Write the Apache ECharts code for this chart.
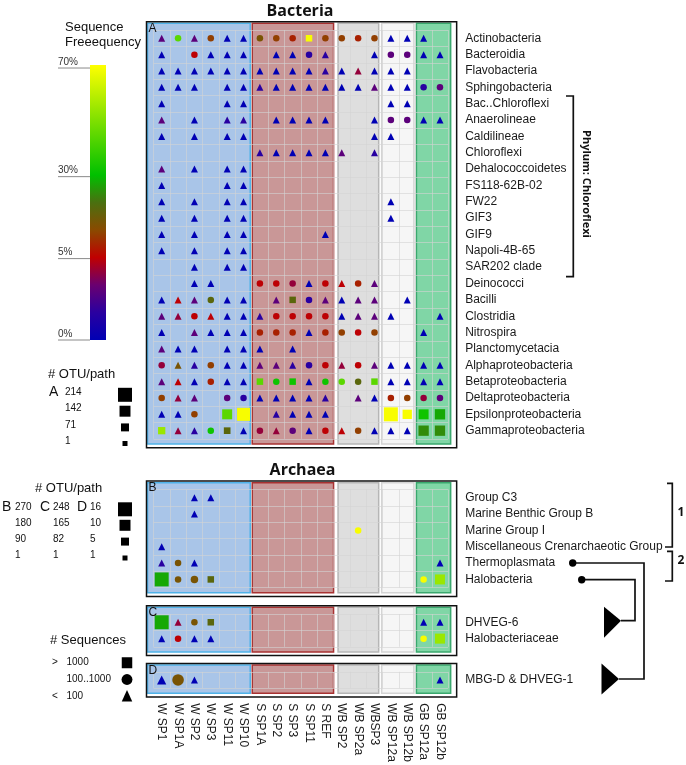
<!DOCTYPE html>
<html><head><meta charset="utf-8">
<script src="https://cdn.jsdelivr.net/npm/echarts@6/dist/echarts.min.js"></script>
<style>html,body{margin:0;padding:0;background:#fff}#c{width:686px;height:765px}</style>
</head><body><div id="c"></div>
<script>
// ---------------- DATA ----------------
const samples = ['W SP1','W SP1A','W SP2','W SP3','W SP11','W SP10','S SP1A','S SP2','S SP3','S SP11','S REF','WB SP2','WB SP2a','WBSP3','WB SP12a','WB SP12b','GB SP12a','GB SP12b'];
const sampleGroups = [[0,5],[6,10],[11,13],[14,15],[16,17]];

const bacteriaClasses = ['Actinobacteria','Bacteroidia','Flavobacteria','Sphingobacteria','Bac..Chloroflexi','Anaerolineae','Caldilineae','Chloroflexi','Dehalococcoidetes','FS118-62B-02','FW22','GIF3','GIF9','Napoli-4B-65','SAR202 clade','Deinococci','Bacilli','Clostridia','Nitrospira','Planctomycetacia','Alphaproteobacteria','Betaproteobacteria','Deltaproteobacteria','Epsilonproteobacteria','Gammaproteobacteria'];
const archaeaBClasses = ['Group C3','Marine Benthic Group B','Marine Group I','Miscellaneous Crenarchaeotic Group','Thermoplasmata','Halobacteria'];
const archaeaCClasses = ['DHVEG-6','Halobacteriaceae'];
const archaeaDClasses = ['MBG-D & DHVEG-1'];

// token = #sequences class (t <100, c 100..1000, s >1000) + frequency level letter + optional OTU/path count; '-' = absent
const bacteriaMarks = [
 'tP cL tP cN tB tB  cK cN cX sY cN  cN cX cN  tB tB  tB -',
 'tB - cR tB tB tB  - tB tB cI tI  - - tB  cP cP  tB tB',
 'tB tB tB tB tB tB  tB tB tB tB tI  tB tM tB  tB tB  - -',
 'tB tB tB - tB tB  tI tB tB tB tB  tB tB tP  tB tB  cI cP',
 'tB - - - tB tB  - - - - -  - - -  tB tB  - -',
 'tP - tB - tI tI  - tB tB tB tB  - - tB  cP cP  tB tB',
 'tB - tB - tB tB  - - - - -  - - tB  tB -  - -',
 '- - - - - -  tI tB tB tB tB  tP - tI  - -  - -',
 'tP - tB - tB tB  - - - - -  - - -  - -  - -',
 'tB - - - tB tB  - - - - -  - - -  - -  - -',
 'tB - tB - tB tB  - - - - -  - - -  tB -  - -',
 'tB - tB - tB tB  - - - - -  - - -  tB -  - -',
 'tB - tB - tB tB  - - - - tB  - - -  - -  - -',
 'tB - tB - tB tB  - - - - -  - - -  - -  - -',
 '- - tB - tB tB  - - - - -  - - -  - -  - -',
 '- - tB tB - -  cR cR cM tB cR  tR cX tP  - -  - -',
 'tB tR tP cO tB tB  - tP sO cI tP  tB tP tP  - tB  - -',
 'tP tM cR tR tB tB  tI cR cR cR cR  tB tP tP  tB -  - tB',
 'tB - tP tB tB tB  cX cX cX tB cX  cN cR cN  - -  tB -',
 'tP tB tB - tB tB  tB - tB - -  - - -  - -  - -',
 'cM tK tI cN tB tB  tP tP tI cI cR  tM cR tP  tB tB  tB tB',
 'tP tR tB cX tB tB  sL cG sG tB cG  cL cO sL  tB tB  tB tB',
 'cN tM tP - cP cI  tB tB tB tB tI  - tP tB  cX cN  cM cP',
 'tB tB cN - sL119 sY190  - tI tB tB tB  - - -  sY214 sY103  sG119 sH127',
 'sQ55 tM tI cG sO40 tB  cM tM cP tB cR  tR cN tB  tB tB  sD127 sD127'
];
const archaeaBMarks = [
 '- - tB tB - -  - - - - -  - - -  - -  - -',
 '- - tB - - -  - - - - -  - - -  - -  - -',
 '- - - - - -  - - - - -  - cY -  - -  - -',
 'tB - - - - -  - - - - -  - - -  - -  - -',
 'tI cK tB - - -  - - - - -  - - -  - -  - tB',
 'sH270 cK cK76 sO - -  - - - - -  - - -  - -  cY sQ150'
];
const archaeaCMarks = [
 'sH248 tM cK sO - -  - - - - -  - - -  - -  tB tB',
 'tB cR tB tB - -  - - - - -  - - -  - -  cY sQ139'
];
const archaeaDMarks = [
 'tB8 cK12 tB - - -  - - - - -  - - -  - -  - tB'
];

// sequence frequency (%) of each colour level
const freqLevels = {B:0, I:1.6, P:3, M:4.2, R:5, X:9, N:12.5, K:16, O:20, D:25, H:28, G:33, L:45, Q:55, Y:70};
const freqTicks = [0, 5, 30, 70];
const otuMaxA = 214, otuMaxB = 270, otuMaxC = 248, otuMaxD = 16;
const otuLegendA = [214, 142, 71, 1];
const otuLegendB = [270, 180, 90, 1];
const otuLegendC = [248, 165, 82, 1];
const otuLegendD = [16, 10, 5, 1];
const seqBinSigns = ['>', '', '<'];
const seqBinLabels = ['1000', '100..1000', '100'];
const seqBinShapes = ['s', 'c', 't'];

// ---------------- SCALES / STYLE ----------------
const colorStops = ['#0000b4','#2a00a0','#6a0070','#c00000','#8a4a00','#4a7010','#00c000','#40d000','#80e000','#c0f000','#ffff00'];
const fAnch = [0, 5, 30, 70], tAnch = [0, 0.296, 0.594, 0.989];
function freqToT(f){
  for (let i = 1; i < fAnch.length; i++) {
    if (f <= fAnch[i]) return tAnch[i-1] + (f - fAnch[i-1]) / (fAnch[i] - fAnch[i-1]) * (tAnch[i] - tAnch[i-1]);
  }
  return 1;
}
const otuSize = (n, max) => 5 + 9 * (n - 1) / (max - 1);
const baseSize = {t: 7, c: 6.5, s: 6.5};
const shapeSymbol = {t: 'triangle', c: 'circle', s: 'rect'};

function parseMarks(rows){
  const out = [];
  rows.forEach((r, ri) => r.trim().split(/\s+/).forEach((tok, ci) => {
    if (tok === '-') return;
    out.push([ci, ri, freqToT(freqLevels[tok[1]]), tok[0], parseInt(tok.slice(2)) || 1]);
  }));
  return out;
}

const CELL_W = 16.37, CELL_H = 16.35, GRID_LEFT = 153.5;
const GRID_W = CELL_W * samples.length;
const panels = [
  {names: bacteriaClasses, marks: bacteriaMarks, max: otuMaxA, top: 30.1, shift: 4, letter: 'A'},
  {names: archaeaBClasses, marks: archaeaBMarks, max: otuMaxB, top: 489.5, shift: 3.5, letter: 'B'},
  {names: archaeaCClasses, marks: archaeaCMarks, max: otuMaxC, top: 614.1, shift: 0.5, letter: 'C'},
  {names: archaeaDClasses, marks: archaeaDMarks, max: otuMaxD, top: 671.8, shift: 0, letter: 'D'}
];
const bandStyles = [
  {fill:'#a9c5e8', stroke:'#4fb2e8', padL:-6, padR:1.5},
  {fill:'#c99797', stroke:'#a83232', padL:0.5, padR:0},
  {fill:'#dedede', stroke:'#b6b6b6', padL:4.5, padR:4},
  {fill:'#f6f6f6', stroke:'#d4d4d4', padL:-1, padR:1.5},
  {fill:'#80d6a6', stroke:'#3aa86e', padL:1, padR:-2.5}
];
const GRID_LINE = 'rgba(212,212,212,0.6)';
const LABEL_FONT = '"Liberation Sans", Arial, sans-serif';
const BOLD_FONT = '"Open Sans", "Liberation Sans", sans-serif';

// ---------------- OPTION ----------------
const grids = [], xAxes = [], yAxes = [], series = [], scatterIdx = [];
panels.forEach((p, i) => {
  const h = CELL_H * p.names.length;
  grids.push({left: GRID_LEFT, top: p.top, width: GRID_W, height: h, containLabel: false, outerBoundsMode: 'none'});
  const last = i === panels.length - 1;
  xAxes.push({type:'category', gridIndex:i, data: samples, position:'bottom',
    axisLine:{show:false}, axisTick:{show:false, interval:0},
    axisLabel:{show:last, interval:0, rotate:-90, margin:15, fontSize:12, color:'#1a1a1a', fontFamily: LABEL_FONT},
    splitLine:{show:true, interval:0, lineStyle:{color: GRID_LINE, width:1}}});
  yAxes.push({type:'category', gridIndex:i, data: p.names, inverse:true, position:'right',
    axisLine:{show:false}, axisTick:{show:false, interval:0},
    axisLabel:{interval:0, margin:17, fontSize:12, color:'#1a1a1a', fontFamily: LABEL_FONT, align:'left', padding:[0,0,p.shift*2,0]},
    splitLine:{show:true, interval:0, lineStyle:{color: GRID_LINE, width:1}}});
  series.push({type:'custom', xAxisIndex:i, yAxisIndex:i, z:-1, silent:true, clip:false,
    encode:{x:[0,1], y:2},
    data: sampleGroups.map(g => [g[0], g[1], 0]),
    renderItem: (params, api) => {
      const st = bandStyles[params.dataIndex];
      const w = api.size([1, 0])[0];
      const cs = params.coordSys;
      const x0 = api.coord([api.value(0), 0])[0] - w/2 + st.padL;
      const x1 = api.coord([api.value(1), 0])[0] + w/2 - st.padR;
      const y0 = cs.y - 6.8, y1 = cs.y + cs.height + 5.2;
      return {type:'rect', shape:{x:x0, y:y0, width:x1-x0, height:y1-y0},
        style:{fill: st.fill, stroke: st.stroke, lineWidth:1.5}};
    }});
  scatterIdx.push(series.length);
  series.push({type:'scatter', xAxisIndex:i, yAxisIndex:i, z:5,
    data: parseMarks(p.marks),
    encode:{x:0, y:1},
    symbol: v => shapeSymbol[v[3]],
    symbolSize: v => Math.max(baseSize[v[3]], otuSize(v[4], p.max)),
    itemStyle:{opacity:1}});
});

// ---------------- GRAPHICS (frames, legends, annotations) ----------------
const g = [];
const txt = (x, y, text, font, align, extra) => Object.assign({type:'text', x, y, z:100,
  style:{text, font, fill:'#111', align: align || 'left', verticalAlign:'middle'}}, extra || {});
panels.forEach(p => {
  const h = CELL_H * p.names.length;
  g.push({type:'rect', z:90, shape:{x: GRID_LEFT - 7, y: p.top - 8.4, width: GRID_W + 15.5, height: h + 17.2},
    style:{fill:'none', stroke:'#111', lineWidth:1.5}});
  g.push(txt(GRID_LEFT - 5, p.top - 7.6, p.letter, '12px ' + LABEL_FONT));
  g[g.length-1].style.verticalAlign = 'top';
});
g.push(txt(300, 11, 'Bacteria', 'bold 16px ' + BOLD_FONT, 'center'));
g.push(txt(302.5, 470.5, 'Archaea', 'bold 16px ' + BOLD_FONT, 'center'));

// colour bar
const BAR_X = 90, BAR_TOP = 65, BAR_H = 275, BAR_W = 16;
g.push({type:'rect', z:50, shape:{x:BAR_X, y:BAR_TOP, width:BAR_W, height:BAR_H},
  style:{fill: new echarts.graphic.LinearGradient(0, 1, 0, 0,
    colorStops.map((c, i) => ({offset: i / (colorStops.length - 1), color: c})))}});
freqTicks.forEach(f => {
  const y = BAR_TOP + BAR_H - freqToT(f) * BAR_H;
  g.push({type:'line', z:50, shape:{x1:58, y1:y, x2:BAR_X, y2:y}, style:{stroke:'#8a8a8a', lineWidth:1}});
  g.push(txt(58, y - 1, f + '%', '10px ' + LABEL_FONT, 'left'));
  g[g.length-1].style.verticalAlign = 'bottom';
  g[g.length-1].style.fill = '#333';
});
g.push(txt(65, 27.3, 'Sequence', '13px ' + LABEL_FONT));
g.push(txt(65, 42.3, 'Freeequency', '13px ' + LABEL_FONT));

// OTU/path legend A
g.push(txt(48, 374, '# OTU/path', '13px ' + LABEL_FONT));
g.push(txt(49, 392.3, 'A', '14px ' + LABEL_FONT));
const rowYA = [392.3, 408.7, 424.9, 441];
otuLegendA.forEach((n, i) => {
  g.push(txt(65, rowYA[i], String(n), '10px ' + LABEL_FONT));
  const s = otuSize(n, otuMaxA);
  g.push({type:'rect', z:50, shape:{x:125 - s/2, y:rowYA[i] + 2.5 - s/2, width:s, height:s}, style:{fill:'#000'}});
});
// OTU/path legend archaea
g.push(txt(35, 488.3, '# OTU/path', '13px ' + LABEL_FONT));
const rowYB = [507, 523, 539.3, 555.7];
[['B', 2, 15, otuLegendB], ['C', 40, 53, otuLegendC], ['D', 77, 90, otuLegendD]].forEach(([L, lx, nx, vals]) => {
  g.push(txt(lx, 506.7, L, '14px ' + LABEL_FONT));
  vals.forEach((n, i) => g.push(txt(nx, rowYB[i], String(n), '10px ' + LABEL_FONT)));
});
otuLegendB.forEach((n, i) => {
  const s = otuSize(n, otuMaxB);
  g.push({type:'rect', z:50, shape:{x:125 - s/2, y:rowYB[i] + 2.3 - s/2, width:s, height:s}, style:{fill:'#000'}});
});
// # Sequences legend
g.push(txt(50, 640.7, '# Sequences', '13px ' + LABEL_FONT));
const rowYS = [662.5, 679.5, 696];
seqBinLabels.forEach((lab, i) => {
  if (seqBinSigns[i]) g.push(txt(52, rowYS[i], seqBinSigns[i], '10px ' + LABEL_FONT));
  g.push(txt(66.5, rowYS[i], lab, '10px ' + LABEL_FONT));
  const cx = 127, cy = rowYS[i], s = 10.5;
  if (seqBinShapes[i] === 's') g.push({type:'rect', z:50, shape:{x:cx - s/2, y:cy - s/2, width:s, height:s + 0.5}, style:{fill:'#000'}});
  else if (seqBinShapes[i] === 'c') g.push({type:'circle', z:50, shape:{cx, cy, r:s/2 + 0.2}, style:{fill:'#000'}});
  else g.push({type:'polygon', z:50, shape:{points:[[cx, cy - 6], [cx + s/2, cy + 5.5], [cx - s/2, cy + 5.5]]}, style:{fill:'#000'}});
});

// Chloroflexi bracket
const LW = 1.7;
g.push({type:'polyline', z:50, shape:{points:[[566,96],[573.3,96],[573.3,276.7],[566,276.7]]}, style:{stroke:'#111', lineWidth:LW, fill:null}});
g.push(txt(586.5, 184, 'Phylum: Chloroflexi', 'bold 11px ' + BOLD_FONT, 'center', {rotation: -Math.PI/2}));
// archaea brackets
g.push({type:'polyline', z:50, shape:{points:[[667,483.3],[672.3,483.3],[672.3,547],[665,547]]}, style:{stroke:'#111', lineWidth:LW, fill:null}});
g.push({type:'polyline', z:50, shape:{points:[[667,551.3],[672.3,551.3],[672.3,581],[665,581]]}, style:{stroke:'#111', lineWidth:LW, fill:null}});
g.push(txt(677.5, 512.3, '1', 'bold 12px ' + BOLD_FONT));
g.push(txt(677.5, 560.3, '2', 'bold 12px ' + BOLD_FONT));
// tree linking archaea panels
g.push({type:'polyline', z:50, shape:{points:[[572.7,563],[644,563],[644,679],[619,679]]}, style:{stroke:'#111', lineWidth:LW, fill:null}});
g.push({type:'polyline', z:50, shape:{points:[[581.7,579.7],[635,579.7],[635,620.7],[621,620.7]]}, style:{stroke:'#111', lineWidth:LW, fill:null}});
g.push({type:'circle', z:50, shape:{cx:572.7, cy:563, r:3.7}, style:{fill:'#000'}});
g.push({type:'circle', z:50, shape:{cx:581.7, cy:579.7, r:3.7}, style:{fill:'#000'}});
g.push({type:'polygon', z:50, shape:{points:[[604,606.7],[621,620.7],[604,637.7]]}, style:{fill:'#000'}});
g.push({type:'polygon', z:50, shape:{points:[[601.5,663.5],[619,679],[601.5,694.5]]}, style:{fill:'#000'}});

const chart = echarts.init(document.getElementById('c'), null, {renderer:'canvas'});
chart.setOption({
  animation: false,
  backgroundColor: '#ffffff',
  grid: grids, xAxis: xAxes, yAxis: yAxes, series,
  visualMap: {type:'continuous', show:false, min:0, max:1, dimension:2, seriesIndex: scatterIdx,
    inRange:{color: colorStops}},
  graphic: {elements: g}
});
</script></body></html>
